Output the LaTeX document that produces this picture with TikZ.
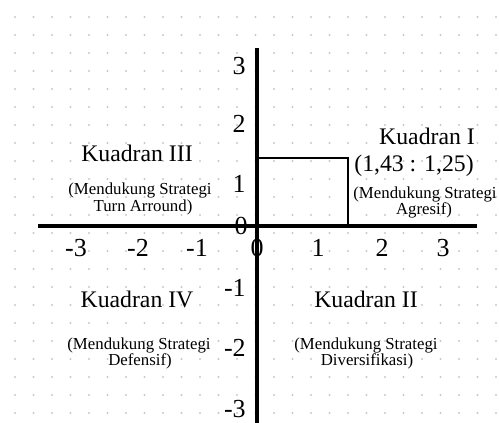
\documentclass[tikz,border=0pt]{standalone}
\usepackage{fontspec}
\setmainfont{Liberation Serif}
\definecolor{dotc}{RGB}{200,200,200}
\begin{document}
\begin{tikzpicture}[x=0.75pt,y=-0.75pt,
  axis/.style={line width=2.3pt},
  rectline/.style={line width=2pt},
  tick/.style={font=\fontsize{19.5}{19.5}\selectfont, anchor=base, inner sep=0pt},
  ytick/.style={font=\fontsize{19.5}{19.5}\selectfont, anchor=base east, inner sep=0pt},
  quad/.style={font=\fontsize{17.8}{17.8}\selectfont, anchor=base, inner sep=0pt},
  sub/.style={font=\fontsize{12.6}{12.6}\selectfont, anchor=base, inner sep=0pt}]
\useasboundingbox (0,0) rectangle (499,423);
% dot grid
\foreach \i in {0,...,26}{
  \foreach \j in {0,...,22}{
    \fill[dotc] (15+\i*18.5, 17+\j*18) circle[radius=0.8pt];
  }
}
% axes
\coordinate (ytop) at (257,48);
\coordinate (ybot) at (257,423);
\coordinate (xl) at (38,226);
\coordinate (xr) at (477,226);
\draw[axis] (ytop) -- (ybot);
\draw[axis] (xl) -- (xr);
% point rectangle
\coordinate (r1) at (257,158);
\coordinate (r2) at (348,158);
\coordinate (r3) at (348,226);
\draw[rectline] (r1) -- (r2) -- (r3);
% x ticks
\node[tick] (xm3) at (76,257) {-3};
\node[tick] (xm2) at (138,257) {-2};
\node[tick] (xm1) at (197,257) {-1};
\node[tick] (x0) at (257,257) {0};
\node[tick] (x1) at (318,257) {1};
\node[tick] (x2) at (382,257) {2};
\node[tick] (x3) at (443,257) {3};
% y ticks
\node[ytick] (y3) at (246,75) {3};
\node[ytick] (y2) at (246,133) {2};
\node[ytick] (y1) at (246,193) {1};
\node[ytick] (y0) at (248,235) {0};
\node[ytick] (ym1) at (246,297) {-1};
\node[ytick] (ym2) at (246,357) {-2};
\node[ytick] (ym3) at (246,417) {-3};
% quadrant I
\node[quad] (q1) at (427,145) {Kuadran I};
\node[quad] (q1p) at (414,172) {(1,43 : 1,25)};
\node[sub] (q1a) at (425,199) {(Mendukung Strategi};
\node[sub] (q1b) at (424,215) {Agresif)};
% quadrant III
\node[quad] (q3) at (137,162) {Kuadran III};
\node[sub] (q3a) at (140,195) {(Mendukung Strategi};
\node[sub] (q3b) at (143,212) {Turn Arround)};
% quadrant IV
\node[quad] (q4) at (137,308) {Kuadran IV};
\node[sub] (q4a) at (139,350) {(Mendukung Strategi};
\node[sub] (q4b) at (140,365) {Defensif)};
% quadrant II
\node[quad] (q2) at (366,308) {Kuadran II};
\node[sub] (q2a) at (366,350) {(Mendukung Strategi};
\node[sub] (q2b) at (367,365) {Diversifikasi)};
\end{tikzpicture}
\end{document}
